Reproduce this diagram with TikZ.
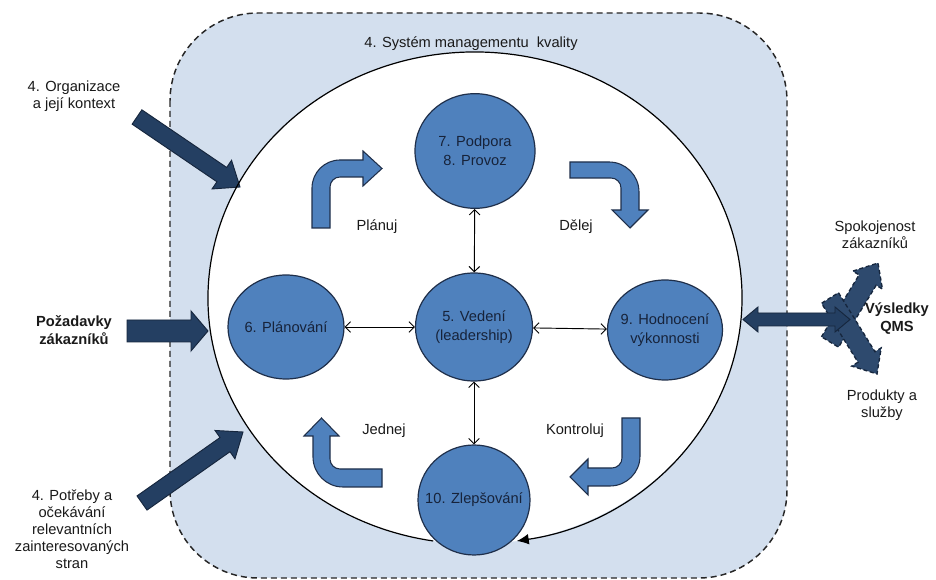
\documentclass[tikz,border=0pt]{standalone}
\usepackage{fontspec}
\setmainfont{Liberation Sans}
\usetikzlibrary{calc,arrows.meta,shapes.geometric}
\definecolor{bgblue}{HTML}{D3DFEE}
\definecolor{cblue}{HTML}{4F81BD}
\definecolor{cedge}{HTML}{1F2F4A}
\definecolor{navy}{HTML}{243F62}
\definecolor{navyedge}{HTML}{16263D}
\definecolor{ynavy}{HTML}{2E4A6E}
\definecolor{txt}{HTML}{1A1A1A}
\definecolor{ctext}{HTML}{17233A}
\newcommand\fatarrow[6]{%
  \coordinate (fa-h) at ($(#3)!#6!(#2)$);
  \draw[#1] ($(#2)!#4!90:(#3)$) -- ($(fa-h)!#4!-90:(#2)$) -- ($(fa-h)!#5!-90:(#2)$) -- (#3)
    -- ($(fa-h)!#5!90:(#2)$) -- ($(fa-h)!#4!90:(#2)$) -- ($(#2)!#4!-90:(#3)$) -- cycle;}
\tikzset{
  lbl/.style={text=txt, align=center, inner sep=0pt, font=\fontsize{11}{12.75}\selectfont},
  circ/.style={ellipse, draw=cedge, fill=cblue, line width=0.9pt, inner sep=0pt},
  ctxt/.style={align=center, text=ctext, inner sep=0pt, font=\fontsize{11}{14}\selectfont},
  bent/.style={fill=cblue, draw=cedge, line width=0.8pt, line join=miter},
  fat/.style={fill=navy, draw=navyedge, line width=0.7pt},
  yarr/.style={fill=ynavy, draw=navyedge, line width=1pt, dash pattern=on 3pt off 2pt},
  link/.style={draw=black, line width=0.7pt,
    {Straight Barb[length=4pt,width=8pt]}-{Straight Barb[length=4pt,width=8pt]}}
}
\begin{document}
\begin{tikzpicture}[x=0.75pt,y=-0.75pt]
\useasboundingbox (0,0) rectangle (936,580);
\fill[white] (0,0) rectangle (936,580);
% system box
\draw[fill=bgblue, draw=black!85, line width=1.1pt, dash pattern=on 4.5pt off 3pt, rounded corners=66pt]
  (170,13) rectangle (787,578);
\node[ellipse, fill=white, draw=none, minimum width=400.5pt, minimum height=369pt, inner sep=0pt] (qms) at (475,298) {};
\node[lbl] (tsys) at (471,44) {4. Systém managementu \ kvality};
% inputs
\coordinate (orgA) at (137,117); \coordinate (orgB) at (240,187);
\coordinate (pozA) at (127,331); \coordinate (pozB) at (208,331);
\coordinate (potA) at (142,503); \coordinate (potB) at (243,432);
\fatarrow{fat}{orgA}{orgB}{6.5pt}{13pt}{16.5pt}
\fatarrow{fat}{pozA}{pozB}{8.25pt}{15pt}{12.75pt}
\fatarrow{fat}{potA}{potB}{6.5pt}{13pt}{16.5pt}
\node[lbl] (torg) at (74,96) {4. Organizace\\a její kontext};
\node[lbl, font=\fontsize{11}{13.5}\selectfont\bfseries] (tpoz) at (74,330) {Požadavky\\zákazníků};
\node[lbl] (tpot) at (72,529) {4. Potřeby a\\očekávání\\relevantních\\zainteresovaných\\stran};
% outputs
\coordinate (yuA) at (830,342); \coordinate (yuB) at (878,263);
\coordinate (ydA) at (830,298); \coordinate (ydB) at (877,374);
\fatarrow{yarr}{yuA}{yuB}{7.5pt}{13pt}{15pt}
\fatarrow{yarr}{ydA}{ydB}{7.5pt}{13pt}{15pt}
\coordinate (rL) at (743,319.5); \coordinate (rR) at (850,319.5);
\draw[fat] (rL) -- (758,307) -- (758,313) -- (835,313) -- (835,307) -- (rR)
  -- (835,332) -- (835,326) -- (758,326) -- (758,332) -- cycle;
\node[lbl] (tspo) at (875,235) {Spokojenost\\zákazníků};
\node[lbl, font=\fontsize{11}{13.5}\selectfont\bfseries] (tvys) at (897,319) {Výsledky\\QMS};
\node[lbl] (tpro) at (882,405) {Produkty a\\služby};
% process circles
\node[circ, minimum width=90pt, minimum height=86pt,
  label={[ctxt]center:7. Podpora\\8. Provoz}] (c7) at (475,151) {};
\node[circ, minimum width=87pt, minimum height=78pt,
  label={[ctxt]center:6. Plánování}] (c6) at (286,327) {};
\node[circ, minimum width=87.75pt, minimum height=81pt,
  label={[ctxt]center:5. Vedení\\(leadership)}] (c5) at (474,327) {};
\node[circ, minimum width=86.25pt, minimum height=75pt,
  label={[ctxt]center:9. Hodnocení\\výkonnosti}] (c9) at (665,330) {};
\node[circ, minimum width=84pt, minimum height=82.5pt,
  label={[ctxt]center:10. Zlepšování}] (c10) at (474,500) {};
\draw[link] (c7) -- (c5);
\draw[link] (c6) -- (c5);
\draw[link] (c5) -- (c9);
\draw[link] (c5) -- (c10);
% cycle outline
\draw[black, line width=0.9pt, -{Latex[length=9pt,width=8pt]}]
  (qms.center) ++(99:267 and 246) arc[start angle=99, end angle=441, x radius=267, y radius=246];
% PDCA bent arrows
\filldraw[bent] (312,228) -- (312,188) arc[start angle=180, end angle=270, radius=28] -- (363,160)
  -- (363,151) -- (382,168.5) -- (363,186) -- (363,177) -- (340,177)
  arc[start angle=270, end angle=180, radius=10] -- (330,228) -- cycle;
\filldraw[bent] (570,162) -- (609,162) arc[start angle=270, end angle=360, radius=30] -- (639,210)
  -- (648,210) -- (630,228) -- (612,210) -- (621,210) -- (621,188)
  arc[start angle=0, end angle=-90, radius=10] -- (570,178) -- cycle;
\filldraw[bent] (622,418) -- (640,418) -- (640,456) arc[start angle=0, end angle=90, radius=30]
  -- (588,486) -- (588,495) -- (570,477) -- (588,459) -- (588,468) -- (612,468)
  arc[start angle=90, end angle=0, radius=10] -- cycle;
\filldraw[bent] (382,469) -- (340,469) arc[start angle=90, end angle=180, radius=10] -- (330,436)
  -- (339,436) -- (321.5,418) -- (304,436) -- (313,436) -- (313,457)
  arc[start angle=180, end angle=90, radius=30] -- (382,487) -- cycle;
\node[lbl] (tplan) at (377,227) {Plánuj};
\node[lbl] (tdel) at (576,227) {Dělej};
\node[lbl] (tjed) at (384,431) {Jednej};
\node[lbl] (tkon) at (575,431) {Kontroluj};
\end{tikzpicture}
\end{document}
